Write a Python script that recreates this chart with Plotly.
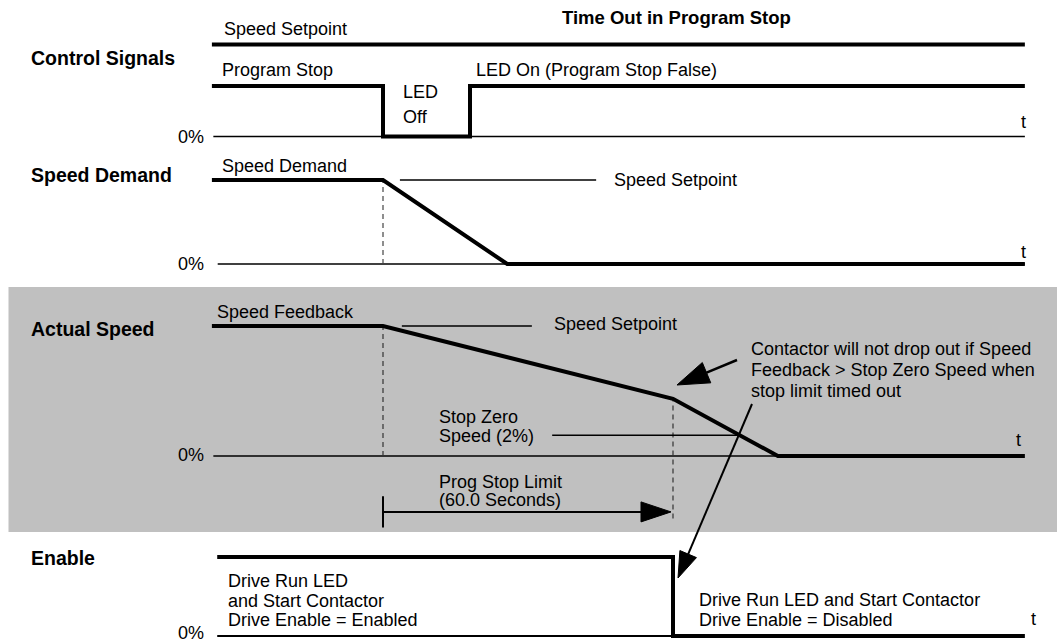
import math
import plotly.graph_objects as go

# ==========================================
# TIMING DIAGRAM - TIME OUT IN PROGRAM STOP
# ==========================================

# ---- time line (seconds, Program Stop goes true at t = 0) ----
T_START = -35.4
T_ENABLE_START = -34.3
T_STOP = 0.0
T_LED_ON = 18.0
T_DEMAND_ZERO = 25.7
T_TIMEOUT = 60.0          # Prog Stop Limit (60.0 Seconds)
T_STOP_ZERO_CROSS = 73.5
T_SPEED_ZERO = 81.7
T_END = 132.8

# ---- control signals (lane units, 0 = 0%) ----
SETPOINT_LEVEL = 100
PROG_STOP_HIGH = 55
ctrl_setpoint_t = [T_START, T_END]
ctrl_setpoint_v = [SETPOINT_LEVEL, SETPOINT_LEVEL]
prog_stop_t = [T_START, T_STOP, T_STOP, T_LED_ON, T_LED_ON, T_END]
prog_stop_v = [PROG_STOP_HIGH, PROG_STOP_HIGH, 0, 0, PROG_STOP_HIGH, PROG_STOP_HIGH]

# ---- speed demand (%) ----
demand_t = [T_START, T_STOP, T_DEMAND_ZERO, T_END]
demand_v = [100, 100, 0, 0]
demand_ref_t = [3.5, 44.1]

# ---- actual speed (%) ----
speed_t = [T_START, T_STOP, T_TIMEOUT, T_SPEED_ZERO, T_END]
speed_v = [100, 100, 44, 0, 0]
speed_ref_t = [3.9, 30.8]
STOP_ZERO_LEVEL = 16
stop_zero_t = [35.0, T_STOP_ZERO_CROSS]
LIMIT_LEVEL = -43
LIMIT_TICK = [-31, -55]
TIMEOUT_DASH_BOTTOM = -48

# ---- enable (%) ----
enable_t = [T_ENABLE_START, T_TIMEOUT, T_TIMEOUT, T_END]
enable_v = [100, 100, 0, 0]

# ----------------------------
# Layout helpers (pixels)
# ----------------------------
W, H = 1057, 639
X_ZERO_PX = 383
PX_PER_S = 290 / 60
FONT = "Liberation Sans, Arial, Helvetica, sans-serif"
TXT = 18
LBL = 19.5
THICK = 4
THIN = 1.4

# lane: (px of 0%, px of 100%)
LANES = {
    "y": (136.5, 44.5),
    "y2": (264, 180),
    "y3": (456, 326),
    "y4": (636, 557),
}


def y_range(base, top):
    vpp = 100 / (base - top)
    return [-(H - base) * vpp, base * vpp]


def xpx(t):
    return X_ZERO_PX + t * PX_PER_S


def ypx(lane, v):
    base, top = LANES[lane]
    return base - v * (base - top) / 100


def px(x, y):
    return x / W, 1 - y / H


fig = go.Figure()


def line(t, v, lane, width=THICK, dash="solid", color="black"):
    fig.add_trace(go.Scatter(
        x=t, y=v, yaxis=lane, mode="lines",
        line=dict(color=color, width=width, dash=dash),
        hoverinfo="skip", showlegend=False, cliponaxis=False
    ))


def text(s, x, y, size=TXT, bold=False, anchor="left"):
    xp, yp = px(x, y)
    fig.add_annotation(
        x=xp, y=yp, xref="paper", yref="paper", text=f"<b>{s}</b>" if bold else s,
        showarrow=False, xanchor=anchor, yanchor="middle",
        font=dict(family=FONT, size=size, color="black")
    )


def arrow(tail, tip, head_len, head_half, width):
    dx, dy = tip[0] - tail[0], tip[1] - tail[1]
    L = math.hypot(dx, dy)
    ux, uy = dx / L, dy / L
    bx, by = tip[0] - ux * head_len, tip[1] - uy * head_len
    nx, ny = -uy, ux
    x0, y0 = px(*tail)
    x1, y1 = px(bx, by)
    fig.add_shape(type="line", xref="paper", yref="paper", x0=x0, y0=y0, x1=x1, y1=y1,
                  line=dict(color="black", width=width))
    pts = [tip, (bx + nx * head_half, by + ny * head_half), (bx - nx * head_half, by - ny * head_half)]
    pts = [px(*p) for p in pts]
    path = "M" + " L".join(f"{a:.5f},{b:.5f}" for a, b in pts) + " Z"
    fig.add_shape(type="path", xref="paper", yref="paper", path=path,
                  fillcolor="black", line=dict(color="black", width=1))


# ----------------------------
# 1. Grey band behind Actual Speed
# ----------------------------
gx0, gy0 = px(8.5, 287)
gx1, gy1 = px(W, 532)
fig.add_shape(type="rect", xref="paper", yref="paper", x0=gx0, x1=gx1, y0=gy1, y1=gy0,
              fillcolor="#c0c0c0", line=dict(width=0), layer="below")

# ----------------------------
# 2. Control signals
# ----------------------------
line([T_START + 0.3, T_END], [0, 0], "y", width=THIN)
line(ctrl_setpoint_t, ctrl_setpoint_v, "y")
line(prog_stop_t, prog_stop_v, "y")

# ----------------------------
# 3. Speed demand
# ----------------------------
line([T_START + 1.2, T_END], [0, 0], "y2", width=THIN)
line([T_STOP, T_STOP], [0, 100], "y2", width=1.2, dash="5px,4px", color="#444")
line(demand_ref_t, [100, 100], "y2", width=THIN)
line(demand_t, demand_v, "y2")

# ----------------------------
# 4. Actual speed
# ----------------------------
line([T_START + 0.3, T_SPEED_ZERO], [0, 0], "y3", width=THIN)
line([T_STOP, T_STOP], [0, 100], "y3", width=1.2, dash="5px,4px", color="#333")
line([T_TIMEOUT, T_TIMEOUT], [TIMEOUT_DASH_BOTTOM, speed_v[2]], "y3", width=1.2, dash="5px,4px", color="#333")
line(speed_ref_t, [100, 100], "y3", width=THIN)
line(stop_zero_t, [STOP_ZERO_LEVEL, STOP_ZERO_LEVEL], "y3", width=THIN)
line(speed_t, speed_v, "y3")
line([T_STOP, T_STOP], LIMIT_TICK, "y3", width=2)

# ----------------------------
# 5. Enable
# ----------------------------
line([T_ENABLE_START, T_TIMEOUT], [0, 0], "y4", width=2)
line(enable_t, enable_v, "y4")

# ----------------------------
# 6. Arrows
# ----------------------------
arrow((xpx(T_STOP), ypx("y3", LIMIT_LEVEL)), (xpx(T_TIMEOUT) - 2, ypx("y3", LIMIT_LEVEL)), 30, 10, 2)
arrow((737, 360), (677, 385), 32, 11, 2.5)
arrow((752, 404), (678, 578), 26, 9, 2)

# ----------------------------
# 7. Text
# ----------------------------
text("Time Out in Program Stop", 560, 17, size=18.5, bold=True)
text("Control Signals", 29, 58, size=LBL, bold=True)
text("Speed Demand", 29, 175, size=LBL, bold=True)
text("Actual Speed", 29, 329, size=LBL, bold=True)
text("Enable", 29, 558, size=LBL, bold=True)

text("Speed Setpoint", 222, 29)
text("Program Stop", 220, 70)
text("LED", 401, 92)
text("Off", 401, 117)
text("LED On (Program Stop False)", 474, 70)

for y0 in [137, 264, 455, 633]:
    text("0%", 206, y0, anchor="right")
for xt, yt in [(1019, 122), (1019, 252), (1014, 440), (1029, 619)]:
    text("t", xt, yt)

text("Speed Demand", 220, 166)
text("Speed Setpoint", 612, 180)
text("Speed Feedback", 215, 312)
text("Speed Setpoint", 552, 324)
text("Stop Zero", 437, 417)
text("Speed (2%)", 437, 436)
text("Prog Stop Limit", 437, 482)
text("(60.0 Seconds)", 437, 500)
text("Contactor will not drop out if Speed", 749, 349)
text("Feedback &gt; Stop Zero Speed when", 749, 370)
text("stop limit timed out", 749, 391)
text("Drive Run LED", 226, 581)
text("and Start Contactor", 226, 601)
text("Drive Enable = Enabled", 226, 620)
text("Drive Run LED and Start Contactor", 697, 600)
text("Drive Enable = Disabled", 697, 620)

# ----------------------------
# 8. Axes / final figure
# ----------------------------
hidden = dict(visible=False, showgrid=False, zeroline=False, fixedrange=True)
layout_axes = {"xaxis": dict(range=[-X_ZERO_PX / PX_PER_S, (W - X_ZERO_PX) / PX_PER_S], domain=[0, 1], **hidden)}
for name, (base, top) in LANES.items():
    key = "yaxis" if name == "y" else "yaxis" + name[1:]
    ax = dict(range=y_range(base, top), domain=[0, 1], **hidden)
    if name != "y":
        ax["overlaying"] = "y"
    layout_axes[key] = ax

fig.update_layout(
    width=W, height=H,
    margin=dict(l=0, r=0, t=0, b=0),
    paper_bgcolor="white", plot_bgcolor="rgba(0,0,0,0)",
    showlegend=False,
    **layout_axes
)

# page body margin would shift the drawing by 8px
fig.write_html("out.html", config={"displayModeBar": False},
               post_script="document.body.style.margin='0';")
